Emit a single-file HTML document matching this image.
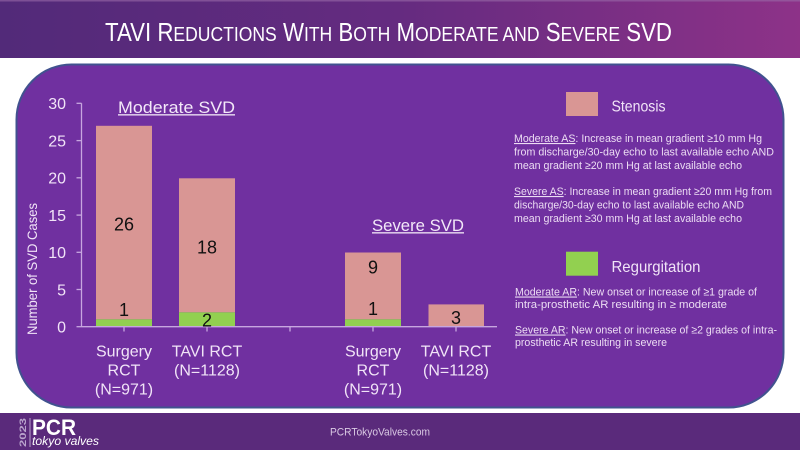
<!DOCTYPE html>
<html>
<head>
<meta charset="utf-8">
<style>
html,body{margin:0;padding:0;background:#fff;}
svg{display:block;}
text{font-family:"Liberation Sans",sans-serif;}
</style>
</head>
<body>
<svg width="800" height="450" viewBox="0 0 800 450" xmlns="http://www.w3.org/2000/svg">
<defs>
<linearGradient id="tg" x1="0" y1="0" x2="1" y2="0">
<stop offset="0" stop-color="#522a79"/>
<stop offset="0.5" stop-color="#652b80"/>
<stop offset="1" stop-color="#8d3288"/>
</linearGradient>
</defs>
<rect x="0" y="0" width="800" height="450" fill="#ffffff"/>
<!-- title bar -->
<rect x="0" y="0" width="800" height="58" fill="url(#tg)"/>
<rect x="0" y="0" width="800" height="1.5" fill="#9a6aa8" opacity="0.6"/>
<text x="105" y="41" fill="#ffffff" textLength="567" lengthAdjust="spacingAndGlyphs" font-size="26"><tspan>TAVI R</tspan><tspan font-size="20.5">EDUCTIONS</tspan><tspan> W</tspan><tspan font-size="20.5">ITH</tspan><tspan> B</tspan><tspan font-size="20.5">OTH</tspan><tspan> M</tspan><tspan font-size="20.5">ODERATE AND</tspan><tspan> S</tspan><tspan font-size="20.5">EVERE</tspan><tspan> SVD</tspan></text>

<!-- main rounded box -->
<rect x="16.5" y="64.5" width="767" height="343" rx="55" ry="55" fill="#7030a0" stroke="#41528f" stroke-width="2"/>

<!-- footer -->
<rect x="0" y="413" width="800" height="37" fill="#5a2a7b"/>
<text transform="translate(26,447) rotate(-90)" fill="#b9a3cc" font-size="9" font-weight="bold" textLength="29" lengthAdjust="spacingAndGlyphs">2023</text>
<rect x="29.5" y="418" width="1" height="29" fill="#b9a3cc"/>
<text x="32" y="435" fill="#ffffff" font-size="22" font-weight="bold" textLength="44" lengthAdjust="spacingAndGlyphs">PCR</text>
<text x="32" y="445" fill="#ffffff" font-size="11.5" font-style="italic" textLength="67" lengthAdjust="spacingAndGlyphs">tokyo valves</text>
<text x="330" y="435.5" fill="#d9c9e3" font-size="11" textLength="100" lengthAdjust="spacingAndGlyphs">PCRTokyoValves.com</text>

<!-- y axis -->
<g stroke="#c7a6df" stroke-width="1.3" fill="none">
<line x1="81.5" y1="103.3" x2="81.5" y2="326.7"/>
<line x1="76.5" y1="103.3" x2="81.5" y2="103.3"/>
<line x1="76.5" y1="140.6" x2="81.5" y2="140.6"/>
<line x1="76.5" y1="177.8" x2="81.5" y2="177.8"/>
<line x1="76.5" y1="215.1" x2="81.5" y2="215.1"/>
<line x1="76.5" y1="252.3" x2="81.5" y2="252.3"/>
<line x1="76.5" y1="289.5" x2="81.5" y2="289.5"/>
<line x1="76.5" y1="326.7" x2="81.5" y2="326.7"/>
</g>
<g fill="#f1e4f7" font-size="16" text-anchor="end">
<text x="66" y="109.2">30</text>
<text x="66" y="146.5">25</text>
<text x="66" y="183.7">20</text>
<text x="66" y="221">15</text>
<text x="66" y="258.2">10</text>
<text x="66" y="295.4">5</text>
<text x="66" y="332.6">0</text>
</g>
<text transform="translate(37,269) rotate(-90)" fill="#f1e4f7" font-size="14" text-anchor="middle" textLength="132" lengthAdjust="spacingAndGlyphs">Number of SVD Cases</text>

<!-- bars -->
<rect x="96" y="125.8" width="56" height="193.5" fill="#d99694"/>
<rect x="96" y="319.3" width="56" height="7.4" fill="#92d050"/>
<rect x="179" y="178.3" width="56" height="134" fill="#d99694"/>
<rect x="179" y="312.3" width="56" height="14.4" fill="#92d050"/>
<rect x="345" y="252.5" width="56" height="66.8" fill="#d99694"/>
<rect x="345" y="319.3" width="56" height="7.4" fill="#92d050"/>
<rect x="428.5" y="304.4" width="55.5" height="22.3" fill="#d99694"/>

<!-- x axis -->
<g stroke="#c7a6df" stroke-width="1.3" fill="none">
<line x1="81.5" y1="326.7" x2="497" y2="326.7"/>
<line x1="124" y1="326.7" x2="124" y2="331.5"/>
<line x1="207" y1="326.7" x2="207" y2="331.5"/>
<line x1="290" y1="326.7" x2="290" y2="331.5"/>
<line x1="373" y1="326.7" x2="373" y2="331.5"/>
<line x1="456" y1="326.7" x2="456" y2="331.5"/>
</g>

<!-- data labels -->
<g fill="#111111" font-size="18" text-anchor="middle">
<text x="124" y="230.7">26</text>
<text x="207" y="253.3">18</text>
<text x="124" y="316">1</text>
<text x="207" y="326.5">2</text>
<text x="373" y="273.3">9</text>
<text x="373" y="315">1</text>
<text x="456" y="324">3</text>
</g>

<!-- group titles -->
<text x="118" y="113" fill="#f3e8f8" font-size="17" textLength="117" lengthAdjust="spacingAndGlyphs">Moderate SVD</text>
<rect x="118" y="114.2" width="117" height="1.3" fill="#f3e8f8"/>
<text x="372" y="231" fill="#f3e8f8" font-size="17" textLength="92" lengthAdjust="spacingAndGlyphs">Severe SVD</text>
<rect x="372" y="232.2" width="92" height="1.3" fill="#f3e8f8"/>

<!-- category labels -->
<g fill="#f1e4f7" font-size="16" text-anchor="middle">
<text x="124" y="356.5">Surgery</text>
<text x="124" y="375.5">RCT</text>
<text x="124" y="394.5">(N=971)</text>
<text x="207" y="356.5">TAVI RCT</text>
<text x="207" y="375.5">(N=1128)</text>
<text x="373" y="356.5">Surgery</text>
<text x="373" y="375.5">RCT</text>
<text x="373" y="394.5">(N=971)</text>
<text x="456" y="356.5">TAVI RCT</text>
<text x="456" y="375.5">(N=1128)</text>
</g>

<!-- legend -->
<rect x="566" y="92" width="32" height="24" fill="#d99694"/>
<text x="611.5" y="111.5" fill="#f1e4f7" font-size="16" textLength="54" lengthAdjust="spacingAndGlyphs">Stenosis</text>
<rect x="566" y="251.7" width="32" height="24" fill="#92d050"/>
<text x="611.5" y="272" fill="#f1e4f7" font-size="16" textLength="89" lengthAdjust="spacingAndGlyphs">Regurgitation</text>

<g fill="#ecdcf3" font-size="11">
<text x="514" y="142" textLength="248" lengthAdjust="spacingAndGlyphs"><tspan style="text-decoration:underline">Moderate AS</tspan>: Increase in mean gradient ≥10 mm Hg</text>
<text x="514" y="155.5" textLength="260" lengthAdjust="spacingAndGlyphs">from discharge/30-day echo to last available echo AND</text>
<text x="514" y="169" textLength="228" lengthAdjust="spacingAndGlyphs">mean gradient ≥20 mm Hg at last available echo</text>
<text x="514" y="195" textLength="258" lengthAdjust="spacingAndGlyphs"><tspan style="text-decoration:underline">Severe AS</tspan>: Increase in mean gradient ≥20 mm Hg from</text>
<text x="514" y="208.5" textLength="230" lengthAdjust="spacingAndGlyphs">discharge/30-day echo to last available echo AND</text>
<text x="514" y="222" textLength="228" lengthAdjust="spacingAndGlyphs">mean gradient ≥30 mm Hg at last available echo</text>

<text x="515" y="295.5" textLength="242" lengthAdjust="spacingAndGlyphs"><tspan style="text-decoration:underline">Moderate AR</tspan>: New onset or increase of ≥1 grade of</text>
<text x="515" y="308" textLength="212" lengthAdjust="spacingAndGlyphs">intra-prosthetic AR resulting in ≥ moderate</text>
<text x="515" y="333.5" textLength="262" lengthAdjust="spacingAndGlyphs"><tspan style="text-decoration:underline">Severe AR</tspan>: New onset or increase of ≥2 grades of intra-</text>
<text x="515" y="346" textLength="152" lengthAdjust="spacingAndGlyphs">prosthetic AR resulting in severe</text>
</g>
</svg>
</body>
</html>
